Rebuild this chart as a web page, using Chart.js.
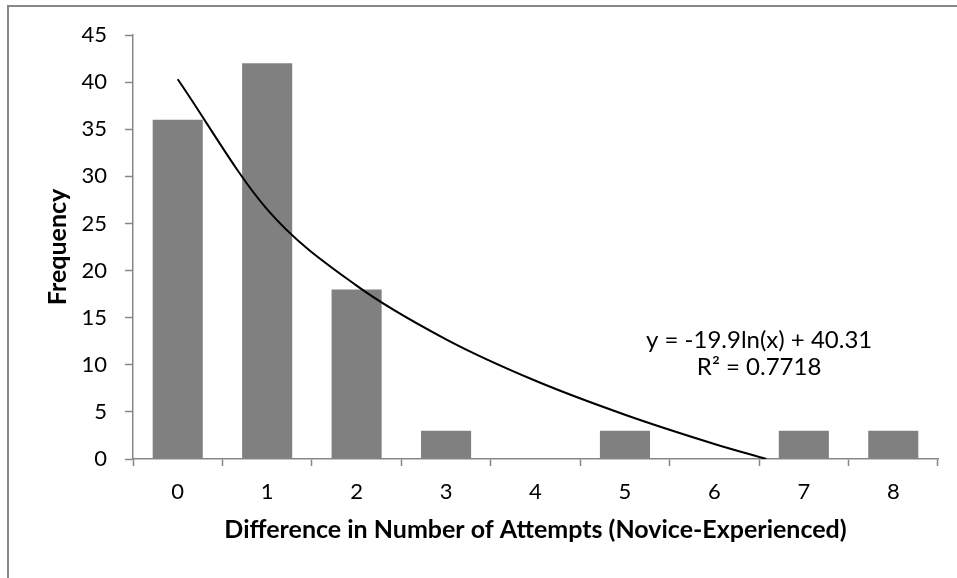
<!DOCTYPE html>
<html>
<head>
<meta charset="utf-8">
<script src="https://cdn.jsdelivr.net/npm/chart.js@4"></script>
<style>
    html, body { margin: 0; padding: 0; background: #fff; }
    #wrap { position: relative; width: 957px; height: 578px; overflow: hidden; }
    #frame {
        position: absolute; left: 7px; top: 5px; width: 1000px; height: 1000px;
        border-left: 2px solid #878787; border-top: 2px solid #878787;
        box-sizing: border-box;
    }
    canvas { position: absolute; left: 0; top: 0; }
</style>
</head>
<body>
<div id="wrap">
    <div id="frame"></div>
    <canvas id="chart" width="957" height="578"></canvas>
</div>
<script>
// Data
const categories = ['0', '1', '2', '3', '4', '5', '6', '7', '8'];
const frequency = [36, 42, 18, 3, 0, 3, 0, 3, 3];

// Logarithmic trendline
const trendX = [0, 1, 2, 3, 4, 5, 6, 6.58];
const trendY = [40.3, 26.5, 18.4, 12.7, 8.3, 4.7, 1.6, 0];

const yTicks = [0, 5, 10, 15, 20, 25, 30, 35, 40, 45];
const trendLabel = ['y = -19.9ln(x) + 40.31', 'R\u00b2 = 0.7718'];

const FONT = 'Lato, "Open Sans", sans-serif';
const AXIS_GRAY = '#878787';

// Trendline equation text
const equationPlugin = {
    id: 'equation',
    afterDatasetsDraw(chart) {
        const { ctx, scales } = chart;
        const x = scales.xLin.getPixelForValue(6.5);
        const y = scales.y.getPixelForValue(12.6);
        ctx.save();
        ctx.font = '24px ' + FONT;
        ctx.fillStyle = '#000';
        ctx.textAlign = 'center';
        ctx.textBaseline = 'middle';
        trendLabel.forEach((line, i) => ctx.fillText(line, x, y + i * 27));
        ctx.restore();
    }
};

const ctx = document.getElementById('chart').getContext('2d');
new Chart(ctx, {
    data: {
        labels: categories,
        datasets: [
            {
                type: 'line',
                label: 'Trend',
                xAxisID: 'xLin',
                data: trendX.map((x, i) => ({ x: x, y: trendY[i] })),
                borderColor: '#000',
                borderWidth: 2,
                pointRadius: 0,
                cubicInterpolationMode: 'monotone',
                fill: false
            },
            {
                type: 'bar',
                label: 'Frequency',
                xAxisID: 'x',
                data: frequency,
                backgroundColor: '#808080',
                borderWidth: 0,
                grouped: false,
                barPercentage: 0.56,
                categoryPercentage: 1.0
            }
        ]
    },
    options: {
        responsive: false,
        animation: false,
        layout: { padding: { left: 43, right: 19, top: 35, bottom: 33 } },
        plugins: {
            legend: { display: false },
            tooltip: { enabled: false }
        },
        scales: {
            x: {
                type: 'category',
                offset: true,
                grid: {
                    display: true,
                    drawOnChartArea: false,
                    offset: true,
                    tickLength: 7,
                    tickColor: AXIS_GRAY,
                    tickWidth: 1.5
                },
                border: { color: AXIS_GRAY, width: 1.5 },
                ticks: {
                    color: '#000',
                    font: { family: FONT, size: 22 },
                    padding: 13
                },
                title: {
                    display: true,
                    text: 'Difference in Number of Attempts (Novice-Experienced)',
                    color: '#000',
                    font: { family: FONT, size: 25, weight: 'bold' },
                    padding: { top: 0, bottom: 0 }
                },
                afterFit(scale) { scale.height = 86; }
            },
            xLin: {
                type: 'linear',
                display: false,
                min: -0.5,
                max: 8.5
            },
            y: {
                min: 0,
                max: 45,
                afterBuildTicks(scale) { scale.ticks = yTicks.map(v => ({ value: v })); },
                grid: {
                    display: true,
                    drawOnChartArea: false,
                    tickLength: 8,
                    tickColor: AXIS_GRAY,
                    tickWidth: 1.5
                },
                border: { color: AXIS_GRAY, width: 1.5 },
                ticks: {
                    color: '#000',
                    font: { family: FONT, size: 22 },
                    padding: 18
                },
                title: {
                    display: true,
                    text: 'Frequency',
                    color: '#000',
                    font: { family: FONT, size: 25, weight: 'bold' },
                    padding: { top: 0, bottom: 0 }
                },
                afterFit(scale) { scale.width = 90; }
            }
        }
    },
    plugins: [equationPlugin]
});
</script>
</body>
</html>
